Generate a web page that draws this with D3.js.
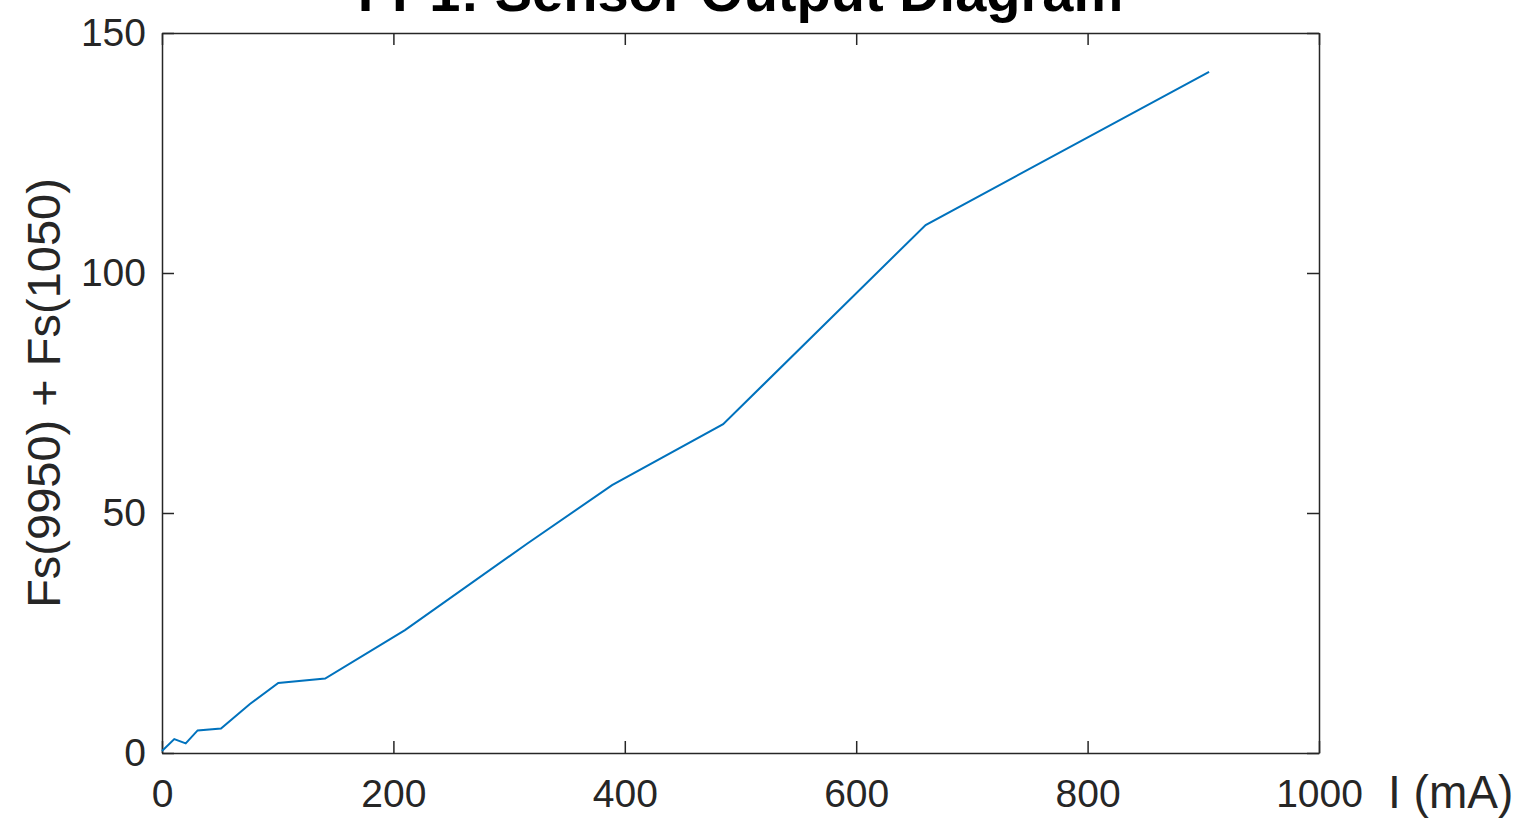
<!DOCTYPE html>
<html>
<head>
<meta charset="utf-8">
<script src="https://cdn.jsdelivr.net/npm/d3@7"></script>
<style>
  body { margin: 0; background: #fff; }
  text { font-family: "Liberation Sans", Arial, sans-serif; fill: #262626; }
</style>
</head>
<body>
<svg id="canvas"></svg>
<script>
var w = 1516
var h = 821

// ########## Data ##########
var currentMA = [0, 10.6, 20.5, 30.8, 51, 76, 100.5, 141, 210, 315.5, 389, 485, 660, 905];
var fsSum = [0.4, 2.9, 2.0, 4.7, 5.1, 10.2, 14.6, 15.5, 25.6, 43.6, 55.8, 68.5, 110, 141.9];
var xTicks = [0, 200, 400, 600, 800, 1000];
var yTicks = [0, 50, 100, 150];

var margin = { left: 162, right: w - 1319, top: 33, bottom: h - 753 };
var pw = w - margin.left - margin.right;
var ph = h - margin.top - margin.bottom;

// ########## SVG ##########
var svg = d3.select("#canvas")
    .attr("width", w)
    .attr("height", h);

var g = svg.append("g")
    .attr("transform", "translate(" + margin.left + "," + margin.top + ")");

var x = d3.scaleLinear().domain([0, 1000]).range([0, pw]);
var y = d3.scaleLinear().domain([0, 150]).range([ph, 0]);

// ########## Axes ##########
function styleAxis(sel) {
    sel.select(".domain").attr("stroke", "#262626").attr("stroke-width", 1.5);
    sel.selectAll(".tick line").attr("stroke", "#262626").attr("stroke-width", 1.5);
    sel.selectAll(".tick text").style("font-size", "39px").attr("fill", "#262626");
}

g.append("g")
    .attr("transform", "translate(0," + ph + ")")
    .call(d3.axisBottom(x).tickValues(xTicks).tickFormat(d3.format("d"))
        .tickSize(-12).tickPadding(26).tickSizeOuter(0))
    .call(styleAxis);

g.append("g")
    .call(d3.axisTop(x).tickValues(xTicks).tickSize(-12).tickFormat("").tickSizeOuter(0))
    .call(styleAxis);

g.append("g")
    .call(d3.axisLeft(y).tickValues(yTicks).tickSize(-12).tickPadding(16).tickSizeOuter(0))
    .call(styleAxis);

g.append("g")
    .attr("transform", "translate(" + pw + ",0)")
    .call(d3.axisRight(y).tickValues(yTicks).tickSize(-12).tickFormat("").tickSizeOuter(0))
    .call(styleAxis);

// ########## Line ##########
var pts = currentMA.map(function (d, i) { return [d, fsSum[i]]; });

g.append("path")
    .datum(pts)
    .attr("fill", "none")
    .attr("stroke", "#0072BD")
    .attr("stroke-width", 2)
    .attr("d", d3.line()
        .x(function (d) { return x(d[0]); })
        .y(function (d) { return y(d[1]); }));

// ########## Labels ##########
svg.append("text")
    .attr("x", margin.left + pw / 2)
    .attr("y", 11)
    .attr("text-anchor", "middle")
    .style("font-size", "56px")
    .style("font-weight", "bold")
    .style("fill", "#000")
    .text("FP1: Sensor Output Diagram");

svg.append("text")
    .attr("x", 1388)
    .attr("y", 808)
    .style("font-size", "46px")
    .text("I (mA)");

svg.append("text")
    .attr("transform", "translate(60,393) rotate(-90)")
    .attr("text-anchor", "middle")
    .style("font-size", "47px")
    .text("Fs(9950) + Fs(1050)");
</script>
</body>
</html>
